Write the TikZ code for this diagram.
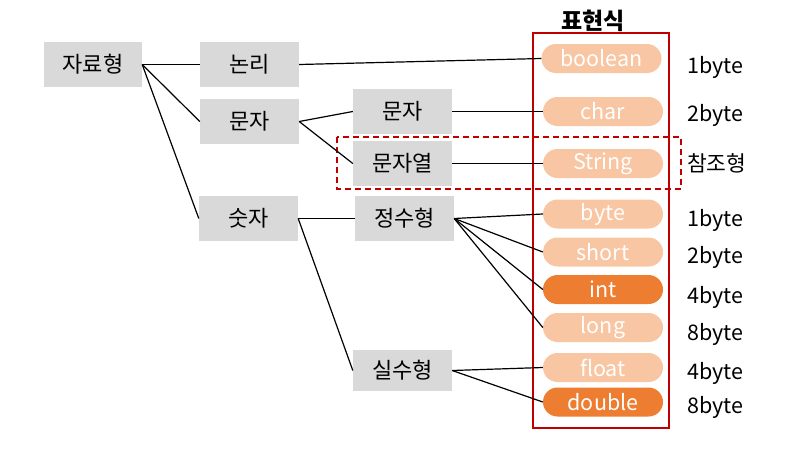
\documentclass[tikz,border=0pt]{standalone}
\usepackage{fontspec}
\setmainfont{Noto Sans CJK KR}
\definecolor{boxgray}{HTML}{D9D9D9}
\definecolor{pilllight}{HTML}{F8C6A2}
\definecolor{pilldark}{HTML}{ED7D31}
\definecolor{redline}{HTML}{C00000}
\begin{document}
\begin{tikzpicture}[x=1pt,y=-1pt,
  graybox/.style={fill=boxgray,inner sep=0pt,minimum width=99pt,minimum height=45pt,font=\fontsize{22}{26}\selectfont},
  pill/.style={rectangle,rounded corners=14.5pt,fill=pilllight,text=white,inner sep=0pt,minimum width=120pt,minimum height=29pt,font=\fontsize{21.5}{24}\selectfont},
  pilld/.style={pill,fill=pilldark},
  sizelbl/.style={anchor=west,inner sep=0pt,font=\fontsize{21.5}{24}\selectfont},
  conn/.style={draw=black,line width=1.2pt}]
\useasboundingbox (0,0) rectangle (793,448);
% red dashed box
\draw[redline,dashed,line width=1.4pt,dash pattern=on 6pt off 4pt] (337,137) rectangle (681,189);
% boxes
\node[graybox,minimum width=98pt] (jr) at (93,64.5) {자료형};
\node[graybox] (nr) at (249.5,64.5) {논리};
\node[graybox] (mj1) at (249.5,121.5) {문자};
\node[graybox] (sj) at (248.5,218.5) {숫자};
\node[graybox] (mj2) at (402.5,111.5) {문자};
\node[graybox] (mjy) at (402.5,163.5) {문자열};
\node[graybox] (jsh) at (404.5,218.5) {정수형};
\node[graybox,minimum height=41pt] (ssh) at (402.5,370.5) {실수형};
% pills
\node[pill] (boolean) at (601.5,58.5) {boolean};
\node[pill] (char) at (603,111.5) {char};
\node[pill] (string) at (603,163.5) {String};
\node[pill] (byte) at (603,214) {byte};
\node[pill] (short) at (603,252) {short};
\node[pilld] (int) at (603,289.5) {int};
\node[pill] (long) at (603,327.5) {long};
\node[pill] (float) at (603,367.5) {float};
\node[pilld] (double) at (603,402) {double};
% red solid box
\draw[redline,line width=2.8pt] (533,33) rectangle (669,428);
\node[font=\bfseries\fontsize{23}{26}\selectfont,inner sep=0pt] (title) at (593,21) {표현식};
% size labels
\node[sizelbl] (l1) at (687,67) {1byte};
\node[sizelbl] (l2) at (687,115) {2byte};
\node[sizelbl] (l3) at (687,163) {참조형};
\node[sizelbl] (l4) at (687,220) {1byte};
\node[sizelbl] (l5) at (687,257) {2byte};
\node[sizelbl] (l6) at (687,297) {4byte};
\node[sizelbl] (l7) at (687,334) {8byte};
\node[sizelbl] (l8) at (687,373) {4byte};
\node[sizelbl] (l9) at (687,407) {8byte};
% connectors
\draw[conn] (jr.east) -- (nr.west);
\draw[conn] (jr.east) -- (mj1.west);
\draw[conn] (jr.east) -- (sj.west);
\draw[conn] (nr.east) -- (boolean.west);
\draw[conn] (mj1.east) -- (mj2.west);
\draw[conn] (mj1.east) -- (mjy.west);
\draw[conn] (mj2.east) -- (char.west);
\draw[conn] (mjy.east) -- (string.west);
\draw[conn] (sj.east) -- (jsh.west);
\draw[conn] (sj.east) -- (ssh.west);
\draw[conn] (jsh.east) -- (byte.west);
\draw[conn] (jsh.east) -- (short.west);
\draw[conn] (jsh.east) -- (int.west);
\draw[conn] (jsh.east) -- (long.west);
\draw[conn] (ssh.east) -- (float.west);
\draw[conn] (ssh.east) -- (double.west);
\end{tikzpicture}
\end{document}
